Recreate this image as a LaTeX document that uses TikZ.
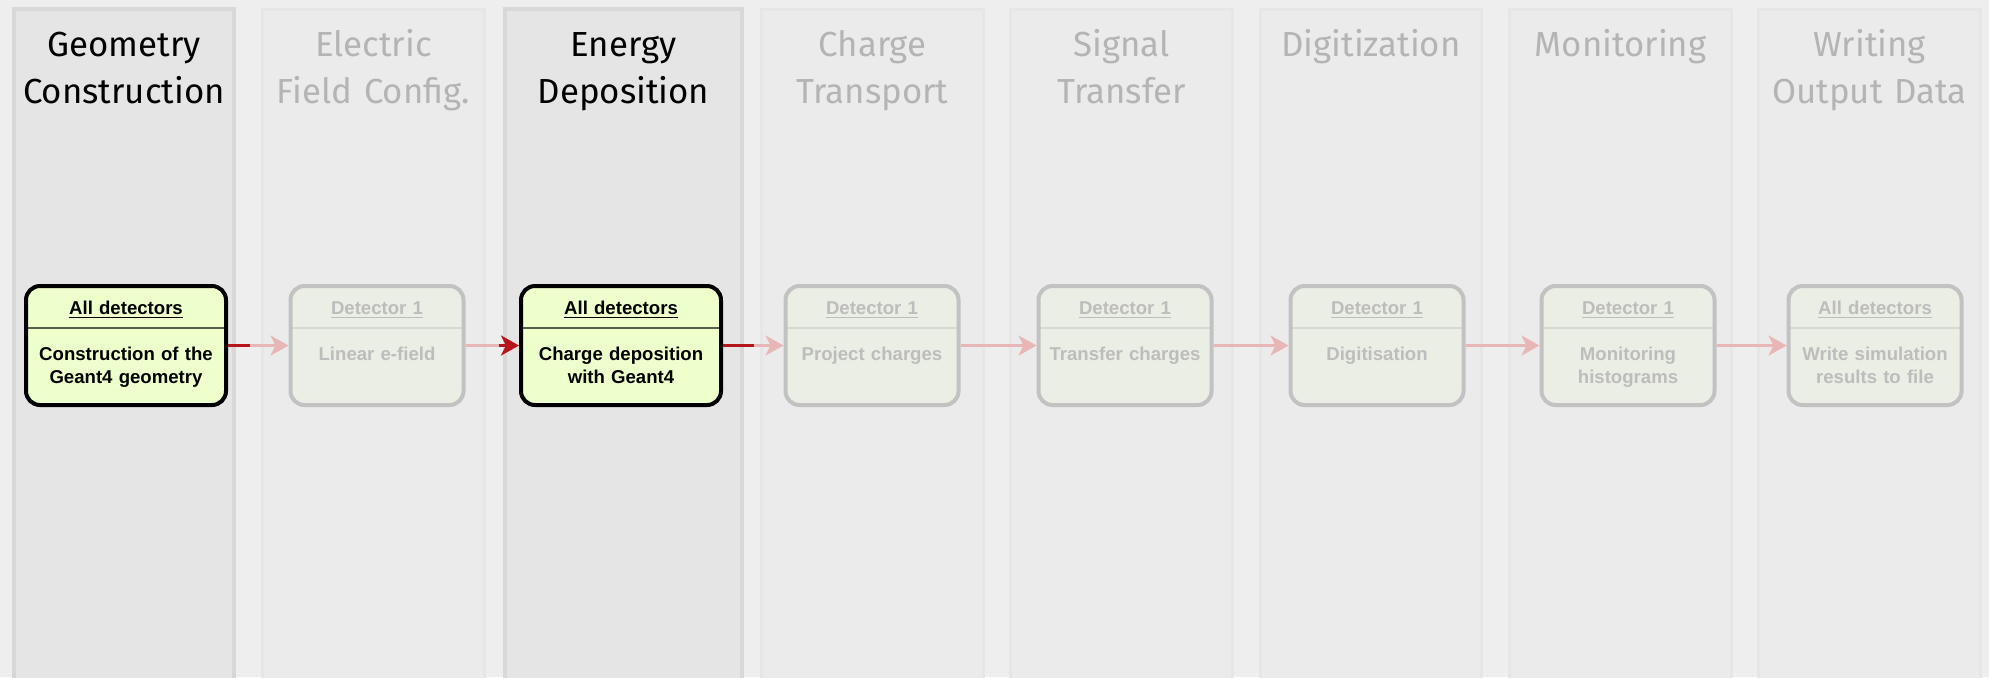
\documentclass[tikz,border=0pt]{standalone}
\usepackage{fontspec}
\setmainfont{Liberation Sans}
\newfontfamily\headfont{Fira Sans}
\usetikzlibrary{arrows.meta}

\definecolor{pagebg}{HTML}{EEEEEE}
\definecolor{panelfillon}{HTML}{E5E5E5}
\definecolor{paneledgeon}{HTML}{D8D8D8}
\definecolor{panelfilloff}{HTML}{EBEBEB}
\definecolor{paneledgeoff}{HTML}{E6E6E6}
\definecolor{limefill}{HTML}{EDFFCB}
\definecolor{limesep}{HTML}{56604C}
\definecolor{fadefill}{HTML}{EAEEE4}
\definecolor{fadeedge}{HTML}{C2C2C2}
\definecolor{fadesep}{HTML}{D6D9D2}
\definecolor{fadetext}{HTML}{BDBDBD}
\definecolor{fadehead}{HTML}{B4B4B4}
\definecolor{flowred}{HTML}{B4161B}
\definecolor{flowpink}{HTML}{E8B6B6}

\begin{document}
\begin{tikzpicture}[x=0.5pt,y=-0.5pt,
  activepanel/.style={fill=panelfillon, draw=paneledgeon, line width=2pt},
  fadedpanel/.style={fill=panelfilloff, draw=paneledgeoff, line width=1.5pt},
  head/.style={font=\headfont\fontsize{17.4}{23.5}\selectfont, align=center,
    text width=120pt, anchor=base, inner sep=0pt},
  activehead/.style={head, text=black},
  fadedhead/.style={head, text=fadehead},
  stage/.style={rectangle, rounded corners=7pt, line width=2pt, inner xsep=2pt,
    inner ysep=0pt, text height=14pt, text depth=45.5pt, align=center,
    font=\fontsize{9.3}{11.5}\selectfont\bfseries},
  activestage/.style={stage, draw=black, fill=limefill, text=black,
    minimum width=100pt, text width=96pt,
    path picture={\draw[line width=1pt, limesep]
      ([yshift=-21pt]path picture bounding box.north west) --
      ([yshift=-21pt]path picture bounding box.north east);}},
  fadedstage/.style={stage, draw=fadeedge, fill=fadefill, text=fadetext,
    minimum width=86.5pt, text width=82.5pt,
    path picture={\draw[line width=1pt, fadesep]
      ([yshift=-21pt]path picture bounding box.north west) --
      ([yshift=-21pt]path picture bounding box.north east);}},
  flow/.style={line width=1.5pt, flowpink,
    -{Stealth[length=9pt, width=10pt, inset=2.5pt]}},
  hotflow/.style={line width=1.5pt, flowred},
]

  \useasboundingbox (0,0) rectangle (1989,677);
  \fill[pagebg] (0,0) rectangle (1989,677);
  \clip (0,0) rectangle (1989,677);

  % column panels
  \draw[activepanel] (14,9) rectangle (234,700);
  \draw[fadedpanel] (262.5,9) rectangle (484.5,700);
  \draw[activepanel] (505,9) rectangle (742,700);
  \draw[fadedpanel] (761.5,9) rectangle (983.5,700);
  \draw[fadedpanel] (1010.5,9) rectangle (1232.5,700);
  \draw[fadedpanel] (1260.5,9) rectangle (1481.5,700);
  \draw[fadedpanel] (1509.5,9) rectangle (1731.5,700);
  \draw[fadedpanel] (1758.5,9) rectangle (1980.5,700);

  % column titles
  \node[activehead] (h1) at (124,56) {Geometry\\Construction};
  \node[fadedhead] (h2) at (373.5,56) {Electric\\Field Config.};
  \node[activehead] (h3) at (623.5,56) {Energy\\Deposition};
  \node[fadedhead] (h4) at (872.5,56) {Charge\\Transport};
  \node[fadedhead] (h5) at (1121.5,56) {Signal\\Transfer};
  \node[fadedhead] (h6) at (1371,56) {Digitization};
  \node[fadedhead] (h7) at (1620.5,56) {Monitoring};
  \node[fadedhead] (h8) at (1869.5,56) {Writing\\Output Data};

  % modules
  \node[activestage] (b1) at (126,345.5) {\underline{All detectors}\\[11.5pt]Construction of the\\Geant4 geometry};
  \node[fadedstage] (b2) at (377,345.5) {\underline{Detector 1}\\[11.5pt]Linear e-field};
  \node[activestage] (b3) at (621,345.5) {\underline{All detectors}\\[11.5pt]Charge deposition\\with Geant4};
  \node[fadedstage] (b4) at (872,345.5) {\underline{Detector 1}\\[11.5pt]Project charges};
  \node[fadedstage] (b5) at (1125,345.5) {\underline{Detector 1}\\[11.5pt]Transfer charges};
  \node[fadedstage] (b6) at (1377,345.5) {\underline{Detector 1}\\[11.5pt]Digitisation};
  \node[fadedstage] (b7) at (1628,345.5) {\underline{Detector 1}\\[11.5pt]Monitoring\\histograms};
  \node[fadedstage] (b8) at (1875,345.5) {\underline{All detectors}\\[11.5pt]Write simulation\\results to file};

  % sequence
  \draw[flow] (b1.east) -- (b2.west);
  \draw[flow] (b2.east) -- (b3.west);
  \draw[flow] (b3.east) -- (b4.west);
  \draw[flow] (b4.east) -- (b5.west);
  \draw[flow] (b5.east) -- (b6.west);
  \draw[flow] (b6.east) -- (b7.west);
  \draw[flow] (b7.east) -- (b8.west);
  \draw[hotflow, shorten >=19.5pt] (b1.east) -- (b2.west);
  \draw[hotflow, shorten <=16.5pt, -{Stealth[length=9pt, width=10pt, inset=2.5pt]}] (b2.east) -- (b3.west);
  \draw[hotflow, shorten >=14.75pt] (b3.east) -- (b4.west);

\end{tikzpicture}
\end{document}
